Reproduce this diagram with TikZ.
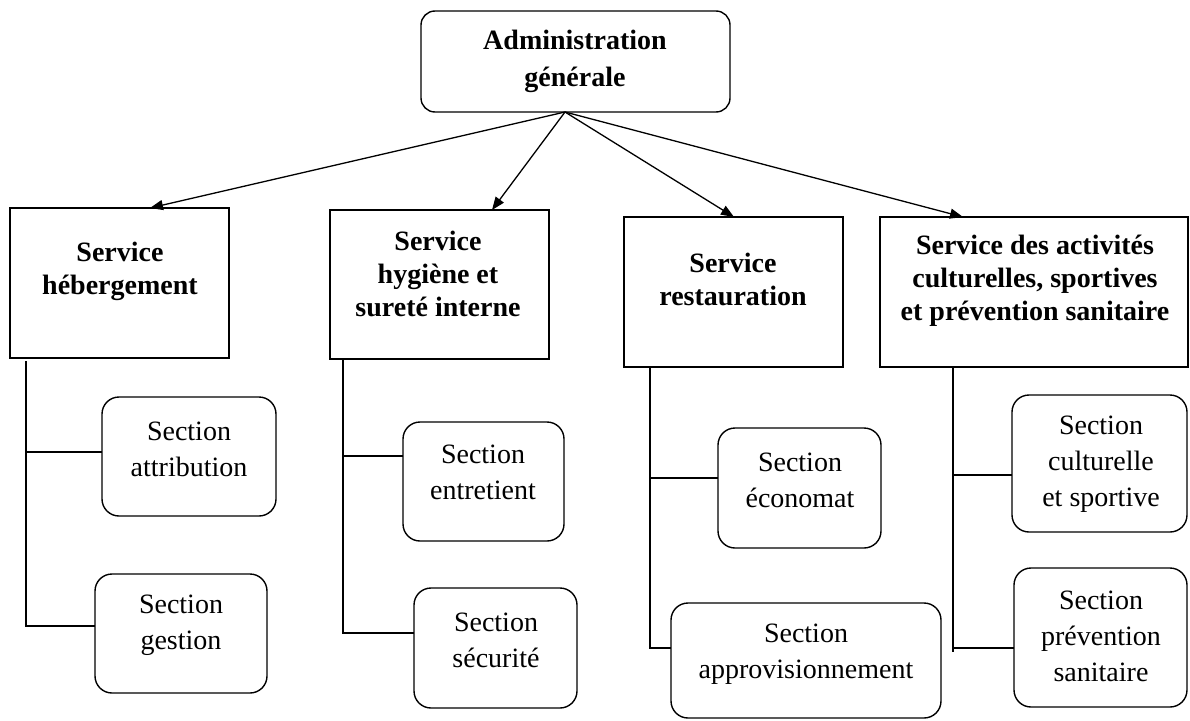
\documentclass[tikz,border=0pt]{standalone}
\usepackage{fontspec}
\setmainfont{Liberation Serif}
\usetikzlibrary{arrows.meta}
\begin{document}
\begin{tikzpicture}[x=1pt,y=-1pt,
  frame/.style={draw=black, line width=1.4pt, inner sep=0pt, outer sep=0pt},
  servicebox/.style={frame},
  admbox/.style={frame, rounded corners=14pt},
  secbox/.style={frame, rounded corners=17pt},
  boldtxt/.style={align=center, inner sep=0pt, font=\fontsize{28}{33}\selectfont\bfseries},
  plaintxt/.style={align=center, inner sep=0pt, font=\fontsize{28}{36}\selectfont},
  link/.style={line width=1.3pt},
  feed/.style={line width=1.3pt, -{Triangle[length=13pt,width=10pt]}}
]
\useasboundingbox[fill=white] (0,0) rectangle (1190,720);

% top level
\node[admbox, minimum width=309pt, minimum height=101pt] (adm) at (575.5,61.5) {};
\node[boldtxt, font=\fontsize{28}{37}\selectfont\bfseries] (admt) at (575,61.5) {Administration\\générale};

% services
\node[servicebox, minimum width=219pt, minimum height=150pt] (s1) at (119.5,283) {};
\node[servicebox, minimum width=219pt, minimum height=149pt] (s2) at (439.5,284.5) {};
\node[servicebox, minimum width=219pt, minimum height=150pt] (s3) at (733.5,292) {};
\node[servicebox, minimum width=308pt, minimum height=150pt] (s4) at (1034,292) {};
\node[boldtxt] (s1t) at (120,271) {Service\\hébergement};
\node[boldtxt] (s2t) at (438,273.5) {Service\\hygiène et\\sureté interne};
\node[boldtxt] (s3t) at (733,279) {Service\\restauration};
\node[boldtxt] (s4t) at (1035,281) {Service des activités\\culturelles, sportives\\et prévention sanitaire};

% sections
\node[secbox, minimum width=174pt, minimum height=119pt] (a1) at (189,456.5) {};
\node[secbox, minimum width=172pt, minimum height=119pt] (a2) at (181,633.5) {};
\node[secbox, minimum width=161pt, minimum height=119pt] (b1) at (483.5,481.5) {};
\node[secbox, minimum width=163pt, minimum height=120pt] (b2) at (495.5,648) {};
\node[secbox, minimum width=163pt, minimum height=120pt] (c1) at (799.5,488) {};
\node[secbox, minimum width=270pt, minimum height=115pt] (c2) at (806,660.5) {};
\node[secbox, minimum width=175pt, minimum height=137pt] (d1) at (1099.5,463.5) {};
\node[secbox, minimum width=173pt, minimum height=139pt] (d2) at (1100.5,637.5) {};
\node[plaintxt] (a1t) at (189,449.5) {Section\\attribution};
\node[plaintxt] (a2t) at (181,625.5) {Section\\gestion};
\node[plaintxt] (b1t) at (483,472.5) {Section\\entretient};
\node[plaintxt] (b2t) at (496,640) {Section\\sécurité};
\node[plaintxt] (c1t) at (800,480) {Section\\économat};
\node[plaintxt] (c2t) at (806,654.5) {Section\\approvisionnement};
\node[plaintxt] (d1t) at (1101,464) {Section\\culturelle\\et sportive};
\node[plaintxt] (d2t) at (1101,636) {Section\\prévention\\sanitaire};

% arrows from the general administration
\coordinate (hub) at (565,112);
\coordinate (s1in) at (150,208);
\coordinate (s2in) at (492,210);
\coordinate (s3in) at (734,217);
\coordinate (s4in) at (963,217);
\draw[feed] (hub) -- (s1in);
\draw[feed] (hub) -- (s2in);
\draw[feed] (hub) -- (s3in);
\draw[feed] (hub) -- (s4in);

% branch lines to the sections
\coordinate (aj1) at (26,452);
\coordinate (aj2) at (26,626);
\draw[link] (s1.south -| aj2) ++(0,3) -- (aj2) -- (aj2 -| a2.west);
\draw[link] (aj1) -- (aj1 -| a1.west);

\coordinate (bj1) at (343,456);
\coordinate (bj2) at (343,633);
\draw[link] (s2.south -| bj2) -- (bj2) -- (bj2 -| b2.west);
\draw[link] (bj1) -- (bj1 -| b1.west);

\coordinate (cj1) at (650,478);
\coordinate (cj2) at (650,648);
\draw[link] (s3.south -| cj2) -- (cj2) -- (cj2 -| c2.west);
\draw[link] (cj1) -- (cj1 -| c1.west);

\coordinate (dj1) at (953,475);
\coordinate (dj2) at (953,648);
\draw[link] (s4.south -| dj2) -- ++(0,285) ;
\draw[link] (dj2) -- (dj2 -| d2.west);
\draw[link] (dj1) -- (dj1 -| d1.west);
\end{tikzpicture}
\end{document}
